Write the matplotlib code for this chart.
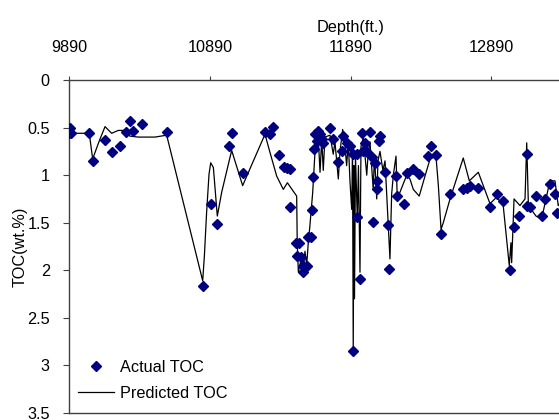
import matplotlib
matplotlib.use("Agg")
import matplotlib.pyplot as plt
from matplotlib.ticker import FuncFormatter

# Actual TOC measurements (depth ft, TOC wt.%)
actual_depth = [9895, 9890, 9900, 10032, 10056, 10144, 10191, 10250, 10293, 10321,
                10341, 10405, 10582, 10838, 10895, 10938, 11027, 11044, 11122, 11281,
                11316, 11340, 11382, 11416, 11435, 11459, 11459, 11501, 11525, 11510,
                11535, 11553, 11577, 11553, 11589, 11606, 11613, 11620, 11629, 11648,
                11660, 11672, 11684, 11695, 11636, 11660, 11743, 11766, 11802, 11826,
                11837, 11861, 11885, 11908, 11932, 11937, 11908, 11956, 11968, 11992,
                11980, 12004, 12027, 12039, 12050, 12063, 12079, 12075, 12093, 12098,
                12134, 12157, 12164, 12212, 12221, 12269, 12288, 12335, 12375, 12441,
                12458, 12496, 12532, 12596, 12690, 12714, 12738, 12797, 12880, 12928,
                12970, 13022, 13051, 13088, 13141, 13141, 13164, 13207, 13247, 13271,
                13306, 13342, 13358]
actual_toc = [0.50, 0.56, 0.56, 0.56, 0.85, 0.63, 0.76, 0.69, 0.55, 0.43,
              0.54, 0.46, 0.55, 2.16, 1.30, 1.51, 0.69, 0.56, 0.98, 0.55,
              0.57, 0.49, 0.79, 0.91, 0.93, 0.94, 1.34, 1.71, 1.71, 1.85,
              1.86, 1.95, 1.95, 2.02, 1.65, 1.65, 1.37, 1.02, 0.73, 0.64,
              0.57, 0.57, 0.62, 0.66, 0.57, 0.54, 0.50, 0.62, 0.86, 0.75,
              0.59, 0.66, 0.69, 0.78, 0.78, 1.44, 2.85, 2.09, 0.56, 0.66,
              0.75, 0.76, 0.55, 0.81, 1.49, 0.87, 1.06, 1.15, 0.64, 0.59,
              0.97, 1.52, 1.99, 1.01, 1.22, 1.30, 0.98, 0.94, 0.99, 0.80,
              0.69, 0.79, 1.62, 1.20, 1.15, 1.13, 1.11, 1.14, 1.33, 1.20,
              1.27, 2.00, 1.54, 1.43, 0.78, 1.32, 1.34, 1.22, 1.43, 1.25,
              1.09, 1.20, 1.40]

# Predicted TOC curve
pred_depth = [9890, 10032, 10056, 10103, 10144, 10191, 10238, 10293, 10321, 10380,
              10499, 10582, 10838, 10850, 10866, 10883, 10895, 10914, 10938, 10942,
              10973, 11044, 11122, 11281, 11316, 11364, 11411, 11440, 11506, 11510,
              11518, 11535, 11553, 11565, 11577, 11589, 11599, 11620, 11636, 11660,
              11672, 11684, 11695, 11707, 11743, 11766, 11778, 11802, 11814, 11833,
              11850, 11861, 11873, 11885, 11897, 11903, 11908, 11913, 11917, 11924,
              11937, 11945, 11956, 11963, 11980, 12004, 12015, 12027, 12050, 12059,
              12075, 12084, 12098, 12119, 12134, 12157, 12169, 12181, 12193, 12212,
              12221, 12240, 12288, 12311, 12335, 12377, 12418, 12454, 12496, 12513,
              12532, 12548, 12596, 12690, 12733, 12797, 12880, 12928, 12974, 13017,
              13029, 13034, 13051, 13093, 13129, 13141, 13153, 13207, 13247, 13306,
              13342, 13365, 13400]
pred_toc = [0.56, 0.56, 0.83, 0.64, 0.49, 0.56, 0.53, 0.53, 0.59, 0.60,
            0.60, 0.58, 2.11, 1.85, 1.39, 0.99, 0.87, 0.92, 1.36, 1.43,
            1.18, 0.74, 1.11, 0.57, 0.76, 1.01, 1.15, 1.08, 1.22, 1.71,
            2.02, 1.90, 1.99, 1.80, 1.95, 1.70, 1.55, 1.18, 0.76, 0.62,
            0.97, 0.62, 0.95, 0.60, 0.58, 0.78, 0.65, 1.04, 0.75, 0.52,
            0.70, 0.90, 0.65, 1.07, 1.36, 0.75, 2.85, 0.90, 2.30, 0.80,
            1.46, 0.90, 2.02, 0.70, 0.60, 1.00, 0.75, 0.65, 1.15, 0.80,
            1.25, 0.85, 0.75, 0.95, 0.85, 1.53, 1.88, 1.20, 1.00, 0.80,
            1.25, 1.18, 1.00, 1.04, 1.15, 1.22, 1.01, 0.83, 0.80, 1.11,
            1.57, 1.50, 1.25, 0.82, 1.06, 0.97, 1.30, 1.23, 1.32, 1.95,
            1.71, 1.92, 1.25, 1.32, 1.25, 0.66, 1.32, 1.43, 1.46, 1.06,
            1.06, 1.32, 1.25]

x_ticks = [9890, 10890, 11890, 12890]
y_ticks = [0, 0.5, 1, 1.5, 2, 2.5, 3, 3.5]

plt.rcParams['font.family'] = ['Liberation Sans', 'DejaVu Sans']
FS = 11.7

fig = plt.figure(figsize=(5.59, 4.20), dpi=100)
fig.patch.set_facecolor('white')
W, H = 559, 420
left_px, right_px, top_px, bot_px = 69.3, 632.1, 80.0, 413.0
ax = fig.add_axes([left_px / W, 1 - bot_px / H, (right_px - left_px) / W, (bot_px - top_px) / H])

ax.plot(pred_depth, pred_toc, color='black', lw=0.9, label='Predicted TOC', zorder=2)
ax.plot(actual_depth, actual_toc, linestyle='none', marker='D', ms=5.2,
        color='#000080', markeredgecolor='#000080', label='Actual TOC', zorder=3)

ax.set_xlim(9890, 13890)
ax.set_ylim(3.5, 0)
ax.xaxis.tick_top()
ax.xaxis.set_label_position('top')
ax.set_xticks(x_ticks)
ax.set_yticks(y_ticks)
ax.yaxis.set_major_formatter(FuncFormatter(lambda v, p: ('%g' % v)))
ax.tick_params(axis='x', direction='out', length=3, pad=15, labelsize=FS, color='#404040')
ax.tick_params(axis='y', direction='out', length=4, pad=10, labelsize=FS, color='#404040')
for s in ['top', 'bottom', 'left', 'right']:
    ax.spines[s].set_color('#404040')
    ax.spines[s].set_linewidth(1.0)

ax.set_xlabel('Depth(ft.)', fontsize=FS, labelpad=6)
ax.set_ylabel('TOC(wt.%)', fontsize=FS, labelpad=0)

handles, labels = ax.get_legend_handles_labels()
order = [1, 0]
leg = fig.legend([handles[i] for i in order], [labels[i] for i in order],
                 loc='upper left', bbox_to_anchor=(78 / W, 1 - 360 / H),
                 frameon=False, fontsize=FS, handlelength=2.2, handletextpad=0.4,
                 labelspacing=0.68, borderpad=0, borderaxespad=0)

fig.savefig('out.png', dpi=100, facecolor='white')
